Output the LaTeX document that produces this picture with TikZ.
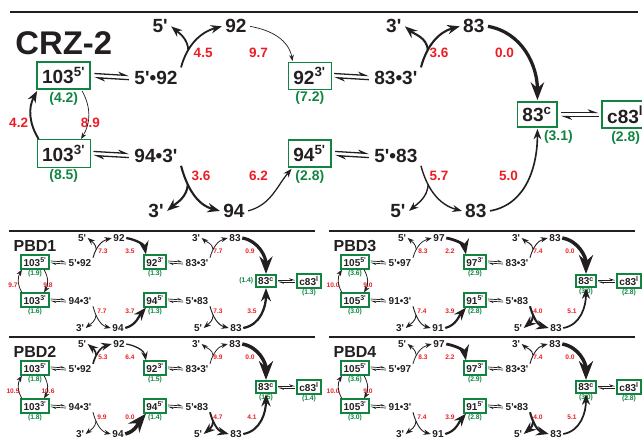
\documentclass[tikz,border=0pt]{standalone}
\usepackage{fontspec}
\setmainfont{Liberation Sans}
\usepackage{tikz}
\usetikzlibrary{arrows.meta,positioning,calc}
\definecolor{boxgreen}{RGB}{16,132,64}
\definecolor{barred}{RGB}{237,28,36}
\definecolor{inkblack}{RGB}{35,31,32}
\newcommand{\prm}{\textquotesingle}
% values of one panel
\newcommand{\energies}[6]{\def\eA{#1}\def\eB{#2}\def\eC{#3}\def\eD{#4}\def\eE{#5}\def\eF{#6}}
\newcommand{\ringrates}[2]{\def\rA{#1}\def\rB{#2}}
\newcommand{\uprates}[4]{\def\rC{#1}\def\rD{#2}\def\rE{#3}\def\rF{#4}}
\newcommand{\lowrates}[4]{\def\rG{#1}\def\rH{#2}\def\rI{#3}\def\rJ{#4}}
\def\wf{2.2}
\tikzset{
  sp/.style={font=\fontsize{10}{10}\selectfont\bfseries, text=inkblack, inner sep=1.5pt},
  bx/.style={sp, draw=boxgreen, line width=1.8pt, inner sep=2.4pt},
  bxa/.style={}, bxb/.style={}, bxc/.style={}, bxd/.style={},
  en/.style={font=\fontsize{6.8}{6.8}\selectfont\bfseries, text=boxgreen, inner sep=0.5pt},
  ba/.style={font=\fontsize{6.6}{6.6}\selectfont\bfseries, text=barred, inner sep=0pt},
  ttl/.style={font=\fontsize{16}{16}\selectfont\bfseries, text=inkblack, inner sep=0pt},
  e83/.style={below=0pt of x83},
  rule/.style={line width=1.3pt, draw=inkblack},
  rxn/.style={draw=inkblack, -{Stealth}},
  rate/.code={\pgfmathsetmacro\rw{\wf*max(0.35,1.6-0.16*#1)}\tikzset{line width=\rw pt}},
  eqf/.style={draw=inkblack, line width=0.7pt, -{Stealth[harpoon, length=0pt 7, width=0pt 5]}},
  eqb/.style={eqf}
}
% one reaction scheme, in panel units
\newcommand{\rxnpanel}[4]{%
  \draw[rule] (9,0) -- (315,0);
  \node[ttl] (ttl) at (35,-15) {#1};
  \node[bx, bxa] (b5) at (35,-31) {#2\textsuperscript{5\prm}};
  \node[bx, bxb] (b3) at (35,-69) {#2\textsuperscript{3\prm}};
  \node[sp] (c5) at (80,-32) {5\prm•#3};
  \node[sp] (c3) at (80,-70) {#4•3\prm};
  \node[sp] (t5) at (82,-7) {5\prm};
  \node[sp] (t92) at (119,-7) {#3};
  \node[bx, bxc] (x92) at (155,-31) {#3\textsuperscript{3\prm}};
  \node[sp] (d3) at (197,-32) {83•3\prm};
  \node[sp] (t3) at (196,-7) {3\prm};
  \node[sp] (t83) at (235,-7) {83};
  \node[bx] (x83) at (266,-50) {83\textsuperscript{c}};
  \node[bx] (xc) at (309,-50) {c83\textsuperscript{l}};
  \node[bx, bxd] (x94) at (155,-69) {#4\textsuperscript{5\prm}};
  \node[sp] (d5) at (197,-70) {5\prm•83};
  \node[sp] (u3) at (80,-97) {3\prm};
  \node[sp] (u94) at (118,-97) {#4};
  \node[sp] (u5) at (198,-97) {5\prm};
  \node[sp] (u83) at (236,-97) {83};
  % energies
  \node[en, below=0pt of b5] (eb5) {(\eA)};
  \node[en, below=0pt of b3] (eb3) {(\eB)};
  \node[en, below=0pt of x92] (ex92) {(\eC)};
  \node[en, below=0pt of x94] (ex94) {(\eD)};
  \node[en, e83] (ex83) {(\eE)};
  \node[en, below=0pt of xc] (exc) {(\eF)};
  % barriers
  \node[ba] (ra) at (13,-54) {\rA};
  \node[ba] (rb) at (48,-54) {\rB};
  \node[ba] (rc) at (103,-20) {\rC};
  \node[ba] (rd) at (130,-20) {\rD};
  \node[ba] (re) at (218,-20) {\rE};
  \node[ba] (rf) at (250,-20) {\rF};
  \node[ba] (rg) at (102,-80) {\rG};
  \node[ba] (rh) at (130,-80) {\rH};
  \node[ba] (ri) at (218,-80) {\rI};
  \node[ba] (rj) at (252,-80) {\rJ};
  % binding equilibria
  \foreach \lft/\rgt in {b5/c5, b3/c3, x92/d3, x94/d5, x83/xc} {
    \draw[eqf] ($(\lft.east)+(1,1)$) -- ($(\rgt.west)+(-1,1)$);
    \draw[eqb] ($(\rgt.west)+(-1,-1)$) -- ($(\lft.east)+(1,-1)$);
  }
  % ring flips
  \draw[rxn, rate=\rA] (b3.150) to[bend left=30] (b5.210);
  \draw[rxn, rate=\rB] (b5.-40) to[bend left=30] (b3.40);
  % release, capture, closing
  \draw[rxn, rate=\rC] (c5.north east) to[out=75, in=195] coordinate[pos=.3] (k1) (t92.west);
  \draw[rxn, rate=\rC] (k1) to[out=95, in=-40] (t5.east);
  \draw[rxn, rate=\rD] (t92.east) to[out=-10, in=100] (x92.140);
  \draw[rxn, rate=\rE] (d3.north east) to[out=75, in=195] coordinate[pos=.3] (k2) (t83.west);
  \draw[rxn, rate=\rE] (k2) to[out=95, in=-40] (t3.east);
  \draw[rxn, rate=\rF] (t83.east) to[out=-10, in=90] (x83.north);
  \draw[rxn, rate=\rG] (c3.south east) to[out=-75, in=165] coordinate[pos=.3] (k3) (u94.west);
  \draw[rxn, rate=\rG] (k3) to[out=-95, in=40] (u3.east);
  \draw[rxn, rate=\rH] (u94.east) to[out=15, in=-130] (x94.220);
  \draw[rxn, rate=\rI] (d5.south east) to[out=-75, in=165] coordinate[pos=.3] (k4) (u83.west);
  \draw[rxn, rate=\rI] (k4) to[out=-95, in=40] (u5.east);
  \draw[rxn, rate=\rJ] (u83.east) to[out=10, in=-90] (x83.south);
}

\begin{document}
\begin{tikzpicture}[x=1pt, y=1pt]
  \useasboundingbox (0,0) rectangle (642,-442);
  % CRZ-2
  \begin{scope}[shift={(-8,-12)}, scale=2.05, transform shape,
      sp/.append style={font=\fontsize{9.3}{9.3}\selectfont\bfseries},
      bxb/.style={line width=0.9pt}, bxc/.style={line width=0.9pt},
      eqf/.append style={line width=1.3pt},
      e83/.style={below right=0pt and -8pt of x83}]
    \def\wf{2.05}
    \energies{4.2}{8.5}{7.2}{2.8}{3.1}{2.8}
    \ringrates{4.2}{8.9}
    \uprates{4.5}{9.7}{3.6}{0.0}
    \lowrates{3.6}{6.2}{5.7}{5.0}
    \rxnpanel{CRZ-2}{103}{92}{94}
  \end{scope}
  % PBD1
  \begin{scope}[shift={(0,-231)}, e83/.style={left=1pt of x83}]
    \energies{1.9}{1.6}{1.3}{1.3}{1.4}{1.3}
    \ringrates{9.7}{9.8}
    \uprates{7.3}{3.5}{7.7}{0.9}
    \lowrates{7.7}{3.7}{7.3}{3.5}
    \rxnpanel{PBD1}{103}{92}{94}
  \end{scope}
  % PBD3
  \begin{scope}[shift={(320,-231)}]
    \energies{3.6}{3.0}{2.9}{2.8}{3.0}{2.8}
    \ringrates{10.0}{9.0}
    \uprates{8.3}{2.2}{7.4}{0.0}
    \lowrates{7.4}{3.9}{4.0}{5.1}
    \rxnpanel{PBD3}{105}{97}{91}
  \end{scope}
  % PBD2
  \begin{scope}[shift={(0,-337)}]
    \energies{1.8}{1.8}{1.5}{1.4}{1.5}{1.4}
    \ringrates{10.5}{10.6}
    \uprates{5.3}{6.4}{9.9}{0.0}
    \lowrates{9.9}{0.0}{4.7}{4.1}
    \rxnpanel{PBD2}{103}{92}{94}
  \end{scope}
  % PBD4
  \begin{scope}[shift={(320,-337)}]
    \energies{3.6}{3.0}{2.9}{2.8}{3.0}{2.8}
    \ringrates{10.0}{9.0}
    \uprates{8.3}{2.2}{7.4}{0.0}
    \lowrates{7.4}{3.9}{4.0}{5.1}
    \rxnpanel{PBD4}{105}{97}{91}
  \end{scope}
\end{tikzpicture}
\end{document}
